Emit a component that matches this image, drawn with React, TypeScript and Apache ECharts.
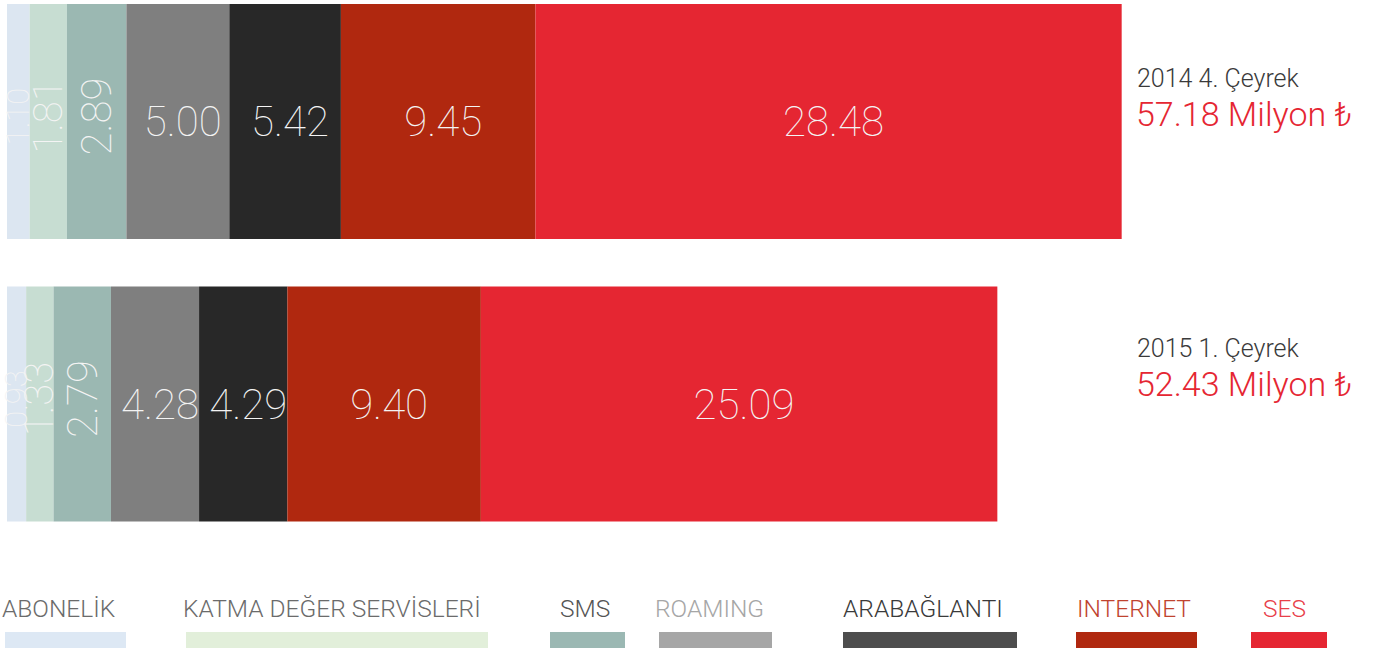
import React, { useEffect, useRef } from "react";
import * as echarts from "echarts";

const periods = ["2014 4. Çeyrek", "2015 1. Çeyrek"];
const totals = ["57.18", "52.43"];
const categories = ["ABONELİK", "KATMA DEĞER SERVİSLERİ", "SMS", "ROAMING", "ARABAĞLANTI", "INTERNET", "SES"];
const abonelik = [1.10, 0.93];
const katma = [1.81, 1.33];
const sms = [2.89, 2.79];
const roaming = [5.00, 4.28];
const arabaglanti = [5.42, 4.29];
const internet = [9.45, 9.40];
const ses = [28.48, 25.09];
const seriesValues = [abonelik, katma, sms, roaming, arabaglanti, internet, ses];

const barColors = ["#dce6f1", "#c7ddd2", "#9bb8b2", "#7f7f7f", "#282828", "#b0280f", "#e52632"];
const legendRectColors = ["#dde8f4", "#e2efda", "#9bb8b3", "#a6a6a6", "#4d4d4d", "#b0280f", "#e52632"];
const legendTextColors = ["#6b6b6b", "#6b6b6b", "#555555", "#a6a6a6", "#3a3a3a", "#c0432f", "#e8404a"];
const legendTextX = [2, 183, 560, 655, 843, 1077, 1263];
const legendRectX = [5, 186, 550, 659, 843, 1076, 1251];
const legendRectW = [121, 302, 75, 113, 174, 121, 76];
const rotatedLabels = [true, true, true, false, false, false, false];
const labelSizes = [31, 40, 42, 42, 42, 42, 42];

const FONT = "Roboto";

export default function App() {
  const ref = useRef<HTMLDivElement>(null);
  useEffect(() => {
    if (!ref.current) return;
    const chart = echarts.init(ref.current, null, { renderer: "svg" });
    const series = seriesValues.map((vals, i) => ({
      name: categories[i],
      type: "bar",
      stack: "total",
      barWidth: 235,
      data: vals,
      itemStyle: { color: barColors[i] },
      label: {
        show: true,
        position: "inside",
        rotate: rotatedLabels[i] ? 90 : 0,
        offset: rotatedLabels[i] ? [5, 0] : [5, 0],
        color: "#f4f4f4",
        fontFamily: FONT,
        fontWeight: 100,
        fontSize: labelSizes[i],
        formatter: (p: any) => Number(p.value).toFixed(2),
      },
    }));
    const graphics: any[] = [];
    const periodY = [66, 336];
    periods.forEach((p, i) => {
      graphics.push({
        type: "text",
        left: 1137,
        top: periodY[i],
        style: { text: p, fill: "#3a3a3a", font: `300 25px ${FONT}` },
      });
      graphics.push({
        type: "text",
        left: 1136,
        top: periodY[i] + 31,
        style: { text: `${totals[i]} Milyon ₺`, fill: "#e52632", font: `300 34px ${FONT}` },
      });
    });
    categories.forEach((c, i) => {
      graphics.push({
        type: "text",
        left: legendTextX[i],
        top: 596,
        style: { text: c, fill: legendTextColors[i], font: `300 24.5px ${FONT}` },
      });
      graphics.push({
        type: "rect",
        shape: { x: legendRectX[i], y: 632, width: legendRectW[i], height: 16 },
        style: { fill: legendRectColors[i] },
      });
    });
    chart.setOption({
      animation: false,
      grid: {
        left: 7,
        top: -19.75,
        width: 60 * 20.585,
        height: 565,
        containLabel: false,
        outerBoundsMode: "none",
      },
      xAxis: { type: "value", min: 0, max: 60, show: false },
      yAxis: { type: "category", data: periods, inverse: true, show: false },
      series,
      graphic: graphics,
    });
    return () => chart.dispose();
  }, []);
  return (
    <div
      ref={ref}
      style={{ position: "absolute", left: 0, top: 0, width: 1388, height: 650, background: "#fff" }}
    />
  );
}
